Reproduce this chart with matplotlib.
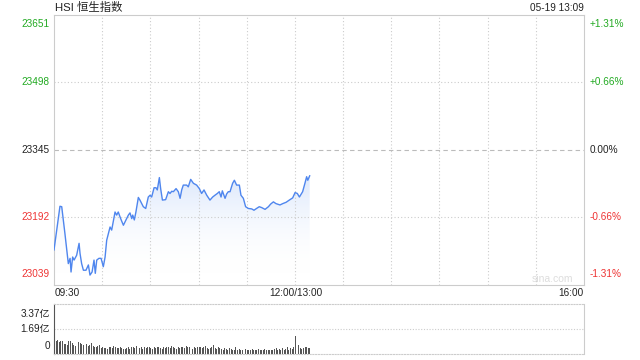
import matplotlib
matplotlib.use("Agg")
import matplotlib.pyplot as plt
from matplotlib.colors import LinearSegmentedColormap
import numpy as np

plt.rcParams['font.family'] = ['Liberation Sans', 'Noto Sans CJK SC', 'DejaVu Sans']

# HSI intraday, minutes since 09:30 (12:00-13:00 lunch break removed)
minutes = [0, 3.7, 4.8, 6.8, 8.9, 10, 10.6, 11.6, 12.5, 14.1, 15.6, 16.2, 17.2, 18.3, 19.9,
           21.4, 22.4, 23.7, 24.9, 25.7, 26.6, 28, 29.3, 30.7, 31.8, 32.8, 34.9, 35.9, 38,
           39, 40, 41.5, 43.2, 44.8, 46.3, 47.3, 48.4, 49, 50, 51, 52.5, 53.5, 55.6, 57.1,
           58.7, 59.8, 60.8, 62.3, 63.5, 64.3, 65.6, 66.4, 67.5, 69.5, 71.2, 72.2, 73.3,
           74.3, 76, 77.4, 78.5, 79.5, 80.5, 82.6, 83.6, 85.1, 86.8, 88.8, 90.5, 91.9, 93.4,
           95.1, 97.1, 98.8, 100.2, 101.7, 102.9, 104, 104.8, 106.5, 107.5, 108.5, 109.6,
           111.2, 112.3, 113.7, 115.4, 116.4, 117.9, 119.3, 121, 123.1, 124.5, 126.1, 127.8,
           129.3, 131.4, 133.5, 134.9, 136.6, 138.2, 140.7, 142.4, 144.5, 146.5, 148.6,
           150.1, 151.5, 152.8, 154.8, 156.3, 157.3, 158, 159.2]
prices = [23118, 23217, 23216, 23155, 23087, 23099, 23068, 23102, 23095, 23106, 23133, 23110,
          23087, 23072, 23072, 23084, 23061, 23068, 23095, 23065, 23095, 23099, 23099, 23080,
          23102, 23140, 23170, 23163, 23204, 23197, 23204, 23189, 23174, 23186, 23197, 23202,
          23189, 23197, 23186, 23204, 23237, 23231, 23216, 23212, 23238, 23242, 23238, 23259,
          23259, 23254, 23282, 23257, 23231, 23232, 23250, 23246, 23251, 23250, 23257, 23250,
          23235, 23254, 23265, 23265, 23261, 23278, 23269, 23265, 23257, 23246, 23254, 23242,
          23231, 23238, 23242, 23246, 23250, 23238, 23252, 23235, 23245, 23250, 23250, 23269,
          23276, 23265, 23265, 23242, 23235, 23216, 23212, 23211, 23208, 23212, 23216, 23214,
          23210, 23216, 23222, 23227, 23223, 23220, 23223, 23226, 23231, 23236, 23248, 23246,
          23238, 23250, 23270, 23284, 23276, 23286]

# turnover per minute, 亿
volume = [1.25, 0.85, 0.95, 0.80, 0.90, 0.85, 0.70, 0.65, 0.60, 0.90,
          0.90, 0.75, 0.60, 0.55, 0.50, 0.80, 0.75, 0.70, 0.60, 0.65,
          0.70, 0.55, 0.60, 0.75, 0.55, 0.45, 0.50, 0.55, 0.60, 0.40,
          0.45, 0.40, 0.40, 0.35, 0.45, 0.50, 0.40, 0.55, 0.50, 0.40,
          0.40, 0.45, 0.40, 0.35, 0.35, 0.40, 0.45, 0.35, 0.50, 0.45,
          0.40, 0.55, 0.45, 0.40, 0.50, 0.35, 0.45, 0.40, 0.50, 0.45,
          0.40, 0.35, 0.45, 0.40, 0.50, 0.45, 0.40, 0.35, 0.45, 0.40,
          0.50, 0.45, 0.40, 0.55, 0.45, 0.40, 0.35, 0.45, 0.40, 0.50,
          0.45, 0.40, 0.55, 0.45, 0.50, 0.40, 0.35, 0.45, 0.40, 0.45,
          0.50, 0.45, 0.40, 0.45, 0.55, 0.40, 0.35, 0.40, 0.45, 0.60,
          0.40, 0.35, 0.45, 0.40, 0.35, 0.30, 0.40, 0.35, 0.30, 0.40,
          0.35, 0.30, 0.25, 0.45, 0.30, 0.35, 0.30, 0.25, 0.30, 0.35,
          0.25, 0.30, 0.25, 0.35, 0.30, 0.25, 0.30, 0.35, 0.25, 0.30,
          0.30, 0.35, 0.25, 0.30, 0.25, 0.30, 0.30, 0.35, 0.40, 0.30,
          0.35, 0.30, 0.40, 0.30, 0.35, 0.45, 0.30, 0.40, 0.35, 0.45,
          1.25, 0.35, 0.60, 0.40, 0.35, 0.40, 0.45, 0.45, 0.40, 0.40]

prev_close = 23345
y_ticks = [23651, 23498, 23345, 23192, 23039]
pct_labels = ['+1.31%', '+0.66%', '0.00%', '-0.66%', '-1.31%']
vol_ticks = [3.37, 1.69, 0]
vol_labels = ['3.37亿', '1.69亿', '0']

green = '#22aa22'
red = '#ee3333'
grid_c = '#cccccc'

fig = plt.figure(figsize=(6.4, 3.6), dpi=100)
ax = fig.add_axes([0.0844, 0.2089, 0.8281, 0.75])
av = fig.add_axes([0.0844, 0.0167, 0.8281, 0.138])

ax.set_xlim(0, 330)
ax.set_ylim(y_ticks[-1], y_ticks[0])

# grid
for m in range(30, 330, 30):
    ax.axvline(m, color=grid_c, lw=0.8, ls=(0, (1, 2)))
for v in [23498, 23192]:
    ax.axhline(v, color=grid_c, lw=0.8, ls=(0, (1, 2)))
ax.axhline(prev_close, color='#bbbbbb', lw=0.8, ls=(0, (4, 3)))

# gradient fill under the line
cmap = LinearSegmentedColormap.from_list('f', [(1, 1, 1, 0), (0.85, 0.9, 0.99, 0.9)])
grad = np.linspace(0, 1, 100).reshape(-1, 1)
img = ax.imshow(grad, cmap=cmap, aspect='auto', origin='lower',
                extent=[minutes[0], minutes[-1], 23039 + 25, max(prices)], zorder=1)
poly = ax.fill_between(minutes, prices, 23039 + 25, color='none', lw=0)
img.set_clip_path(poly.get_paths()[0], transform=ax.transData)
ax.plot(minutes, prices, color='#4f86ee', lw=1.0, zorder=3)

for s in ax.spines.values():
    s.set_color(grid_c)
ax.set_xticks([])
ax.set_yticks([])

colors = [green, green, '#222222', red, red]
vas = ['top', 'center', 'center', 'center', 'bottom']
for v, c, va, p in zip(y_ticks, colors, vas, pct_labels):
    off = {'top': -3, 'center': 0, 'bottom': 4}[va]
    ax.annotate(str(v), (0, v), xycoords=('axes fraction', 'data'), xytext=(-3, off),
                textcoords='offset points', ha='right', va=va, fontsize=7.2, color=c)
    ax.annotate(p, (1, v), xycoords=('axes fraction', 'data'), xytext=(4, off),
                textcoords='offset points', ha='left', va=va, fontsize=7.2, color=c)

fig.text(0.086, 0.978, 'HSI 恒生指数', fontsize=8.2, color='#222222', va='center', ha='left')
fig.text(0.9125, 0.978, '05-19 13:09', fontsize=7.2, color='#222222', va='center', ha='right')
fig.text(0.086, 0.186, '09:30', fontsize=7.2, color='#222222', va='center', ha='left')
fig.text(0.4625, 0.186, '12:00/13:00', fontsize=7.2, color='#222222', va='center', ha='center')
fig.text(0.9125, 0.186, '16:00', fontsize=7.2, color='#222222', va='center', ha='right')
fig.text(0.864, 0.225, 'sina.com', fontsize=7.5, color='#dddddd', va='center', ha='center')

# volume
av.set_xlim(0, 330)
av.set_ylim(0, 3.37)
av.bar(np.arange(len(volume)), volume, width=0.6, color='#555555', lw=0, align='edge')
av.axhline(1.69, color=grid_c, lw=0.8, ls=(0, (1, 1.5)))
av.spines['top'].set_linestyle((0, (1, 1.5)))
av.spines['bottom'].set_linestyle((0, (1, 1.5)))
av.spines['top'].set_color(grid_c)
av.spines['bottom'].set_color(grid_c)
av.spines['right'].set_color(grid_c)
av.spines['left'].set_color('#555555')
av.set_xticks([])
av.set_yticks([])
for v, lab, off in zip(vol_ticks, vol_labels, [-7, 0, 6]):
    av.annotate(lab, (0, v), xycoords=('axes fraction', 'data'), xytext=(-3, off),
                textcoords='offset points', ha='right', va='center', fontsize=7.2, color='#222222')

fig.savefig('out.png', dpi=100, facecolor='white')
